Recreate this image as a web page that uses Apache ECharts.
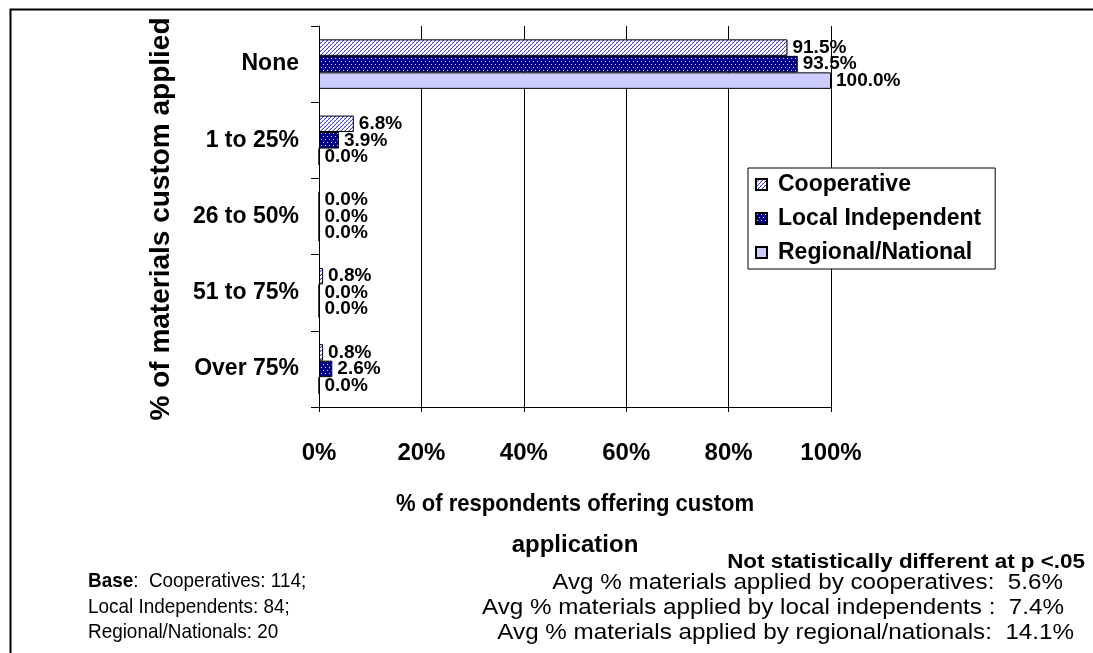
<!DOCTYPE html>
<html>
<head>
<meta charset="utf-8">
<script src="https://cdn.jsdelivr.net/npm/echarts@6/dist/echarts.min.js"></script>
<style>
  html, body { margin: 0; padding: 0; background: #fff; }
  #chart { width: 1093px; height: 653px; }
</style>
</head>
<body>
<div id="chart"></div>
<script>
// Share of materials custom applied, by dealer type
const categories = ['None', '1 to 25%', '26 to 50%', '51 to 75%', 'Over 75%'];
const seriesNames = ['Cooperative', 'Local Independent', 'Regional/National'];
const cooperative = [91.5, 6.8, 0.0, 0.8, 0.8];
const localIndependent = [93.5, 3.9, 0.0, 0.0, 2.6];
const regionalNational = [100.0, 0.0, 0.0, 0.0, 0.0];
const xTicks = [0, 20, 40, 60, 80, 100];

const baseLines = ['Cooperatives: 114;', 'Local Independents: 84;', 'Regional/Nationals: 20'];
const avgLines = [
  'Avg % materials applied by cooperatives:  5.6%',
  'Avg % materials applied by local independents :  7.4%',
  'Avg % materials applied by regional/nationals:  14.1%'
];

const FONT = '"Liberation Sans", Arial, sans-serif';

// Fill patterns: light diagonal hatch and navy with white dots
function hatchPattern() {
  const c = document.createElement('canvas');
  c.width = 4; c.height = 4;
  const g = c.getContext('2d');
  g.fillStyle = '#ffffff';
  g.fillRect(0, 0, 4, 4);
  g.fillStyle = '#4a4acc';
  g.fillRect(3, 0, 1, 1);
  g.fillRect(2, 1, 1, 1);
  g.fillRect(1, 2, 1, 1);
  g.fillRect(0, 3, 1, 1);
  g.fillStyle = '#b4b4ec';
  g.fillRect(2, 0, 1, 1);
  g.fillRect(0, 2, 1, 1);
  return c;
}
function dotPattern() {
  const c = document.createElement('canvas');
  c.width = 4; c.height = 6;
  const g = c.getContext('2d');
  g.fillStyle = '#000080';
  g.fillRect(0, 0, 4, 6);
  g.fillStyle = '#d8d8ff';
  g.fillRect(1, 1, 1, 1);
  g.fillRect(3, 4, 1, 1);
  return c;
}

const fills = [
  { image: hatchPattern(), repeat: 'repeat' },
  { image: dotPattern(), repeat: 'repeat' },
  '#ccccff'
];
const values = [cooperative, localIndependent, regionalNational];

const chart = echarts.init(document.getElementById('chart'), null, { renderer: 'canvas' });

const series = seriesNames.map((name, i) => ({
  name: name,
  type: 'bar',
  data: values[i],
  barGap: '0%',
  barCategoryGap: '35%',
  itemStyle: { color: fills[i], borderColor: '#000', borderWidth: 1 },
  label: {
    show: true,
    position: 'right',
    distance: 5,
    color: '#000',
    fontFamily: FONT,
    fontWeight: 'bold',
    fontSize: 19,
    formatter: p => p.value.toFixed(1) + '%'
  },
  emphasis: { disabled: true },
  animation: false
}));

// plain text helper for the notes under the chart
function note(x, y, text, opts) {
  return Object.assign({ type: 'text', x: x, y: y, silent: true, z: 50,
    style: Object.assign({ text: text, fill: '#000', textVerticalAlign: 'middle' }, opts.style) },
    opts.el || {});
}

chart.setOption({
  animation: false,
  backgroundColor: '#fff',
  grid: { left: 319, right: 262, top: 26, bottom: 246, containLabel: false },
  legend: {
    data: seriesNames,
    orient: 'vertical',
    left: 748,
    top: 168,
    padding: [5, 14, 5, 7],
    itemGap: 11,
    itemWidth: 11,
    itemHeight: 11,
    icon: 'rect',
    backgroundColor: '#fff',
    borderColor: '#000',
    borderWidth: 1,
    textStyle: { color: '#000', fontFamily: FONT, fontWeight: 'bold', fontSize: 23, lineHeight: 22, padding: [0, 0, 0, 6] },
    selectedMode: false
  },
  xAxis: {
    type: 'value',
    min: 0,
    max: 100,
    interval: 20,
    axisLine: { show: true, lineStyle: { color: '#000', width: 1 } },
    axisTick: { show: true, length: 5, lineStyle: { color: '#000' } },
    splitLine: { show: true, lineStyle: { color: '#000', width: 1 } },
    axisLabel: {
      margin: 34,
      color: '#000',
      fontFamily: FONT,
      fontWeight: 'bold',
      fontSize: 24,
      formatter: v => xTicks.includes(v) ? v + '%' : ''
    }
  },
  yAxis: {
    type: 'category',
    data: categories,
    inverse: true,
    axisLine: { show: true, lineStyle: { color: '#000', width: 1 } },
    axisTick: { show: true, length: 8, inside: false, lineStyle: { color: '#000' } },
    splitLine: { show: false },
    axisLabel: {
      margin: 20,
      color: '#000',
      fontFamily: FONT,
      fontWeight: 'bold',
      fontSize: 23
    }
  },
  series: series,
  graphic: [
    // outer frame
    { type: 'rect', left: 8, top: 7, silent: true, z: 100,
      shape: { x: 0, y: 0, width: 1200, height: 800 },
      style: { fill: null, stroke: '#000', lineWidth: 2 } },
    // y axis title
    note(161, 219, '% of materials custom applied', { el: { rotation: Math.PI / 2 },
      style: { font: 'bold 28px ' + FONT, textAlign: 'center' } }),
    // x axis title (two lines)
    note(575, 504, '% of respondents offering custom', { el: { scaleX: 0.92 },
      style: { font: 'bold 24px ' + FONT, textAlign: 'center' } }),
    note(575, 545, 'application', { style: { font: 'bold 24px ' + FONT, textAlign: 'center' } }),
    // significance note
    note(1085, 562, 'Not statistically different at p <.05', { el: { scaleX: 1.12 },
      style: { font: 'bold 20px ' + FONT, textAlign: 'right' } }),
    // base sizes
    note(88, 581, '{b|Base}:  ' + baseLines[0], { el: { scaleX: 0.9 }, style: { font: '21px ' + FONT,
      rich: { b: { fontWeight: 'bold', fontSize: 21, fontFamily: FONT } } } }),
    note(88, 607, baseLines[1], { el: { scaleX: 0.9 }, style: { font: '21px ' + FONT } }),
    note(88, 632, baseLines[2], { el: { scaleX: 0.9 }, style: { font: '21px ' + FONT } }),
    // averages
    note(1063, 583, avgLines[0], { el: { scaleX: 1.1 }, style: { font: '22px ' + FONT, textAlign: 'right' } }),
    note(1064, 608, avgLines[1], { el: { scaleX: 1.1 }, style: { font: '22px ' + FONT, textAlign: 'right' } }),
    note(1074, 633, avgLines[2], { el: { scaleX: 1.1 }, style: { font: '22px ' + FONT, textAlign: 'right' } })
  ]
});
</script>
</body>
</html>
